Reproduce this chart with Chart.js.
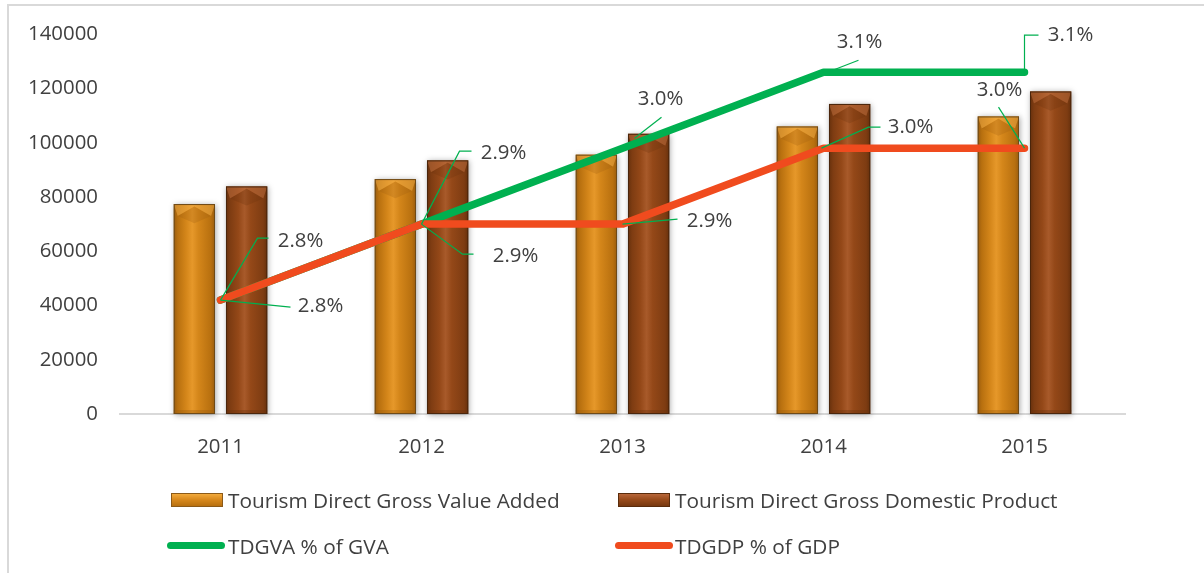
<!DOCTYPE html>
<html lang="en">
<head>
  <meta charset="UTF-8">
  <title>Tourism Direct GVA and GDP</title>
  <style>
    html, body {
      margin: 0;
      padding: 0;
      background: #fff;
      font-family: 'Open Sans', sans-serif;
    }
    #wrap {
      position: relative;
      width: 1204px;
      height: 573px;
      overflow: hidden;
    }
    #frame {
      position: absolute;
      left: 7px;
      top: 4px;
      right: -10px;
      bottom: -10px;
      border-left: 2px solid #d9d9d9;
      border-top: 2px solid #d9d9d9;
    }
    canvas { position: absolute; left: 0; top: 0; }
    .leg {
      position: absolute;
      font-size: 20.8px;
      line-height: 24px;
      color: #404040;
      white-space: nowrap;
    }
    .sw {
      position: absolute;
      box-sizing: border-box;
      width: 52px;
      height: 14px;
    }
    .sw.orange {
      background: linear-gradient(#f2aa3c, #d98a1e 45%, #b8700f);
      border: 1px solid #8c5a18;
    }
    .sw.brown {
      background: linear-gradient(#b8673a, #9a4c1c 45%, #76380f);
      border: 1px solid #5a2c0c;
    }
    .ln {
      position: absolute;
      width: 58px;
      height: 7px;
      border-radius: 4px;
    }
  </style>
  <script src="https://cdn.jsdelivr.net/npm/chart.js"></script>
</head>
<body>
  <div id="wrap">
    <div id="frame"></div>
    <canvas id="grafico" width="1204" height="573"></canvas>

    <div class="sw orange" style="left:171px; top:493px;"></div>
    <div class="leg" style="left:228px; top:488px;">Tourism Direct Gross Value Added</div>
    <div class="sw brown" style="left:618px; top:493px;"></div>
    <div class="leg" style="left:675px; top:488px;">Tourism Direct Gross Domestic Product</div>

    <div class="ln" style="left:167px; top:542px; background:#00b050;"></div>
    <div class="leg" style="left:228px; top:534px;">TDGVA % of GVA</div>
    <div class="ln" style="left:615px; top:542px; background:#f04b1e;"></div>
    <div class="leg" style="left:675px; top:534px;">TDGDP % of GDP</div>
  </div>

  <script>
    // datos
    const years = ['2011', '2012', '2013', '2014', '2015'];
    const tdgva = [77400, 86600, 95600, 106000, 109700];
    const tdgdp = [83900, 93500, 103300, 114300, 118900];
    const tdgvaPct = [2.8, 2.9, 3.0, 3.1, 3.1];
    const tdgdpPct = [2.8, 2.9, 2.9, 3.0, 3.0];
    const yTicks = [0, 20000, 40000, 60000, 80000, 100000, 120000, 140000];

    const FONT = { family: 'Open Sans', size: 20.4 };
    const TEXT = '#404040';
    const GREEN = '#00b050';
    const RED = '#f04b1e';

    // shading for the bevelled bars
    const paletas = [
      { edge: '#9a5c0e', dark: '#b8700f', mid: '#d4861a', light: '#e6982a', top: '#f4b04a', line: '#6e4a18' },
      { edge: '#66300c', dark: '#7e3c12', mid: '#944818', light: '#a85a2a', top: '#c0703f', line: '#4a260c' }
    ];

    // where each percentage label sits relative to its point, plus its leader
    const etiquetas = [
      [
        { t: [80, -59], lead: [[0, 0], [37, -62], [48, -62]] },
        { t: [82, -71], lead: [[0, 0], [38, -73], [50, -73]] },
        { t: [38, -49], lead: [[12, -10], [39, -31]] },
        { t: [36, -30], lead: [[4, 0], [35, -12]] },
        { t: [46, -37], lead: [[0, 0], [0, -37], [14, -37]] }
      ],
      [
        { t: [100, 6], lead: [[0, 0], [60, 6], [70, 7]] },
        { t: [94, 32], lead: [[0, 0], [41, 30], [52, 30]] },
        { t: [87, -3], lead: [[0, 0], [55, -5]] },
        { t: [87, -21], lead: [[-2, 0], [45, -21], [57, -21]] },
        { t: [-25, -58], lead: [[0, 0], [-26, -41]] }
      ]
    ];

    const barrasBisel = {
      id: 'barrasBisel',
      beforeDatasetDraw(chart, args) {
        const meta = args.meta;
        if (meta.type !== 'bar') return;
        const pal = paletas[args.index];
        const ctx = chart.ctx;
        meta.data.forEach(bar => {
          const { x, y, base, width } = bar.getProps(['x', 'y', 'base', 'width'], true);
          const l = x - width / 2, r = x + width / 2, h = base - y;

          ctx.save();
          ctx.shadowColor = 'rgba(0,0,0,0.35)';
          ctx.shadowBlur = 6;
          ctx.shadowOffsetX = 1;
          ctx.shadowOffsetY = 1;
          const g = ctx.createLinearGradient(l, 0, r, 0);
          g.addColorStop(0, pal.edge);
          g.addColorStop(0.1, pal.dark);
          g.addColorStop(0.3, pal.mid);
          g.addColorStop(0.45, pal.light);
          g.addColorStop(0.6, pal.mid);
          g.addColorStop(0.9, pal.dark);
          g.addColorStop(1, pal.edge);
          ctx.fillStyle = g;
          ctx.fillRect(l, y, width, h);
          ctx.restore();

          // top bevel: light band with a V in the middle
          const bv = Math.min(12, h / 2);
          ctx.save();
          ctx.globalAlpha = 0.5;
          ctx.fillStyle = pal.top;
          ctx.beginPath();
          ctx.moveTo(l, y);
          ctx.lineTo(r, y);
          ctx.lineTo(r - 4, y + bv);
          ctx.lineTo(x, y + bv * 0.2);
          ctx.lineTo(l + 4, y + bv);
          ctx.closePath();
          ctx.fill();
          ctx.globalAlpha = 0.25;
          ctx.fillStyle = pal.edge;
          ctx.beginPath();
          ctx.moveTo(l + 4, y + bv);
          ctx.lineTo(x, y + bv * 0.2);
          ctx.lineTo(r - 4, y + bv);
          ctx.lineTo(x, y + bv * 1.6);
          ctx.closePath();
          ctx.fill();
          // bottom edge a little darker
          ctx.globalAlpha = 0.35;
          ctx.fillRect(l, base - 4, width, 4);
          ctx.restore();

          ctx.save();
          ctx.strokeStyle = pal.line;
          ctx.lineWidth = 1;
          ctx.strokeRect(l + 0.5, y + 0.5, width - 1, h - 1);
          ctx.restore();
        });
        return false;
      }
    };

    const etiquetasPct = {
      id: 'etiquetasPct',
      afterDatasetsDraw(chart) {
        const ctx = chart.ctx;
        [2, 3].forEach((dsIndex, k) => {
          const meta = chart.getDatasetMeta(dsIndex);
          const valores = chart.data.datasets[dsIndex].data;
          meta.data.forEach((pt, i) => {
            const cfg = etiquetas[k][i];
            ctx.save();
            ctx.strokeStyle = GREEN;
            ctx.lineWidth = 1.2;
            ctx.beginPath();
            cfg.lead.forEach((p, j) => {
              const px = pt.x + p[0], py = pt.y + p[1];
              if (j === 0) ctx.moveTo(px, py); else ctx.lineTo(px, py);
            });
            ctx.stroke();
            ctx.fillStyle = TEXT;
            ctx.font = FONT.size + 'px "' + FONT.family + '"';
            ctx.textAlign = 'center';
            ctx.textBaseline = 'middle';
            ctx.fillText(valores[i].toFixed(1) + '%', pt.x + cfg.t[0], pt.y + cfg.t[1]);
            ctx.restore();
          });
        });
      }
    };

    new Chart(document.getElementById('grafico'), {
      type: 'bar',
      data: {
        labels: years,
        datasets: [
          {
            label: 'Tourism Direct Gross Value Added',
            data: tdgva,
            backgroundColor: '#d4861a',
            categoryPercentage: 0.52,
            barPercentage: 0.79,
            order: 2
          },
          {
            label: 'Tourism Direct Gross Domestic Product',
            data: tdgdp,
            backgroundColor: '#944818',
            categoryPercentage: 0.52,
            barPercentage: 0.79,
            order: 2
          },
          {
            type: 'line',
            label: 'TDGVA % of GVA',
            data: tdgvaPct,
            yAxisID: 'y1',
            borderColor: GREEN,
            borderWidth: 7.5,
            borderCapStyle: 'round',
            borderJoinStyle: 'round',
            pointRadius: 0,
            tension: 0,
            order: 1
          },
          {
            type: 'line',
            label: 'TDGDP % of GDP',
            data: tdgdpPct,
            yAxisID: 'y1',
            borderColor: RED,
            borderWidth: 7.5,
            borderCapStyle: 'round',
            borderJoinStyle: 'round',
            pointRadius: 0,
            tension: 0,
            order: 0
          }
        ]
      },
      options: {
        responsive: false,
        animation: false,
        layout: { padding: { left: 0, right: 79, top: 34, bottom: 99 } },
        plugins: {
          legend: { display: false },
          tooltip: { enabled: false }
        },
        scales: {
          x: {
            grid: { display: false, drawTicks: false },
            border: { display: true, color: '#d9d9d9', width: 2 },
            ticks: { color: TEXT, font: FONT, padding: 21 },
            afterFit(scale) { scale.height = 60; }
          },
          y: {
            min: 0,
            max: 140000,
            afterBuildTicks(scale) { scale.ticks = yTicks.map(v => ({ value: v })); },
            grid: { display: false, drawTicks: false },
            border: { display: false },
            ticks: { color: TEXT, font: FONT, padding: 22, callback: v => String(v) },
            afterFit(scale) { scale.width = 120; }
          },
          y1: {
            display: false,
            position: 'right',
            min: 2.65,
            max: 3.15
          }
        }
      },
      plugins: [barrasBisel, etiquetasPct]
    });
  </script>
</body>
</html>
